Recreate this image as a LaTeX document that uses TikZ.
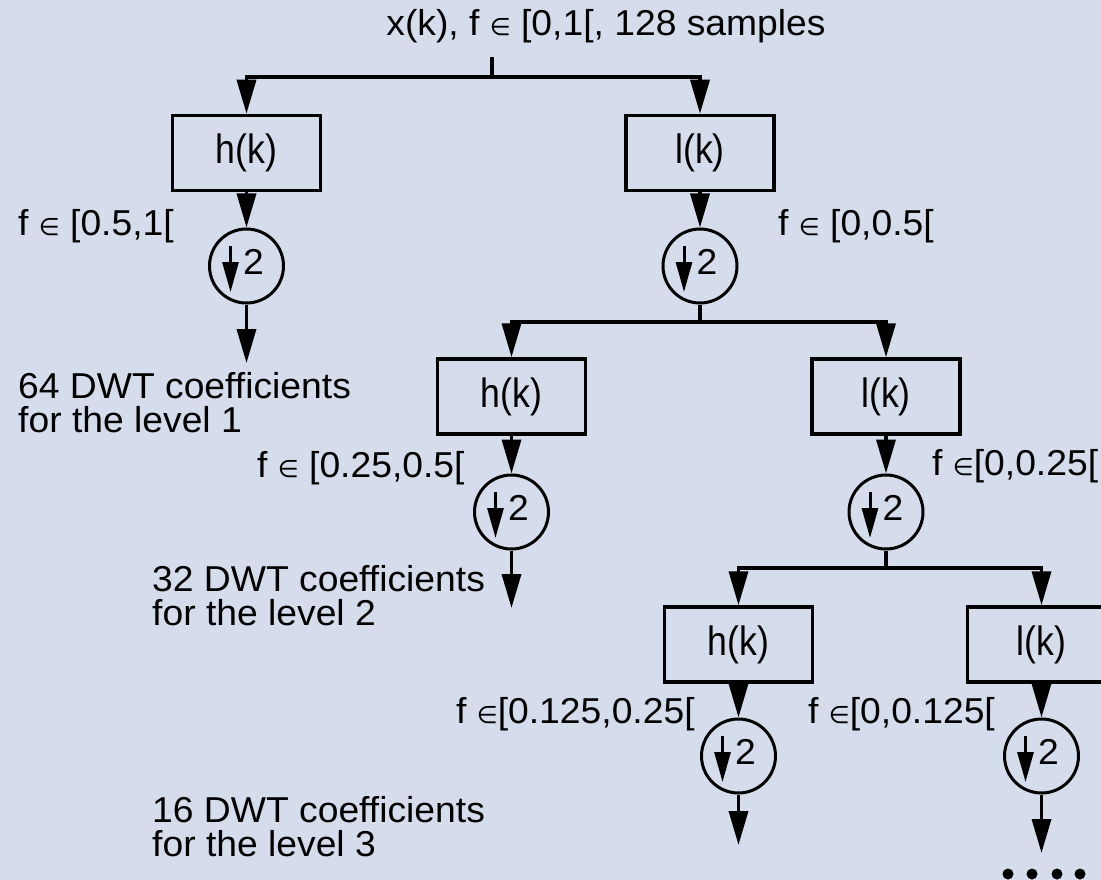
\documentclass[tikz,border=0pt]{standalone}
\usepackage{fontspec}
\setmainfont{Liberation Sans}[FakeStretch=1.035]
\newfontfamily\filterfont{Liberation Sans}[FakeStretch=0.87]
\newfontfamily\symfont{DejaVu Sans}
\usetikzlibrary{arrows.meta}
\definecolor{paper}{RGB}{213,220,236}
\newcommand{\elsym}{{\symfont\fontsize{24}{24}\selectfont ∈}}
\begin{document}
\begin{tikzpicture}[x=1pt,y=-1pt,
  every node/.style={font=\fontsize{36}{34}\selectfont},
  filt/.style={draw,line width=3.5pt,minimum width=148pt,minimum height=75pt,inner sep=0pt,
    font=\filterfont\fontsize{41}{41}\selectfont},
  down/.style={draw,circle,line width=3pt,minimum size=74pt,inner sep=0pt},
  lbl/.style={anchor=base west,inner sep=0pt},
  wire/.style={line width=3.5pt},
  flow/.style={line width=3.5pt,line join=miter,-{Triangle[length=34pt,width=19pt]}},
  inner/.style={line width=3pt,-{Triangle[length=30pt,width=16pt]}},
]
% background and page size
\fill[paper] (0,0) rectangle (1101,880);
\useasboundingbox (0,0) rectangle (1101,880);

% input signal
\node[anchor=base,inner sep=0pt] (input) at (606,36) {x(k), f \elsym\ [0,1[, 128 samples};
\coordinate (stem0) at (492,57);
\coordinate (split0) at (492,77);

% level 1
\node[filt] (h1) at (246.5,153) {h(k)};
\node[filt] (l1) at (700,153) {l(k)};
\node[down] (d1h) at (246.5,266) {};
\node[down] (d1l) at (700,266) {};
\coordinate (out1) at (246.5,363);
\coordinate (split1) at (700,322);

% level 2
\node[filt] (h2) at (511.5,396.5) {h(k)};
\node[filt] (l2) at (886,396.5) {l(k)};
\node[down] (d2h) at (511.5,512) {};
\node[down] (d2l) at (886,512) {};
\coordinate (out2) at (511.5,608);
\coordinate (split2) at (886,568);

% level 3
\node[filt] (h3) at (738.5,644.5) {h(k)};
\node[filt] (l3) at (1041.5,644.5) {l(k)};
\node[down] (d3h) at (738.5,756) {};
\node[down] (d3l) at (1041.5,756) {};
\coordinate (out3) at (738.5,845);
\coordinate (out4) at (1041.5,853);

% downsampling symbols inside the circles
\foreach \c in {d1h,d1l,d2h,d2l,d3h,d3l}{
  \draw[inner] ([shift={(-16,-20)}]\c.center) -- ([shift={(-16,26)}]\c.center);
  \node[anchor=base,inner sep=0pt] (\c-two) at ([shift={(7,8.5)}]\c.center) {2};
}

% connections
\draw[wire] (stem0) -- (split0);
\draw[flow] (split0) -| (h1.north);
\draw[flow] (split0) -| (l1.north);
\draw[flow] (h1.south) -- (d1h.north);
\draw[flow] (l1.south) -- (d1l.north);
\draw[flow] (d1h.south) -- (out1);
\draw[wire] (d1l.south) -- (split1);
\draw[flow] (split1) -| (h2.north);
\draw[flow] (split1) -| (l2.north);
\draw[flow] (h2.south) -- (d2h.north);
\draw[flow] (l2.south) -- (d2l.north);
\draw[flow] (d2h.south) -- (out2);
\draw[wire] (d2l.south) -- (split2);
\draw[flow] (split2) -| (h3.north);
\draw[flow] (split2) -| (l3.north);
\draw[flow] (h3.south) -- (d3h.north);
\draw[flow] (l3.south) -- (d3l.north);
\draw[flow] (d3h.south) -- (out3);
\draw[flow] (d3l.south) -- (out4);

% continuation dots
\foreach \x in {1008,1032,1057,1080}{
  \fill (\x,874) circle (5.5);
}

% band labels
\node[lbl] (b1h) at (18,236) {f \elsym\ [0.5,1[};
\node[lbl] (b1l) at (778,236) {f \elsym\ [0,0.5[};
\node[lbl] (b2h) at (257,477) {f \elsym\ [0.25,0.5[};
\node[lbl] (b2l) at (932,475) {f \elsym[0,0.25[};
\node[lbl] (b3h) at (456,723) {f \elsym[0.125,0.25[};
\node[lbl] (b3l) at (808,723) {f \elsym[0,0.125[};

% output descriptions
\node[lbl] (c1a) at (18,398) {64 DWT coefficients};
\node[lbl] (c1b) at (18,432) {for the level 1};
\node[lbl] (c2a) at (152,591) {32 DWT coefficients};
\node[lbl] (c2b) at (152,625) {for the level 2};
\node[lbl] (c3a) at (152,822) {16 DWT coefficients};
\node[lbl] (c3b) at (152,856) {for the level 3};
\end{tikzpicture}
\end{document}
